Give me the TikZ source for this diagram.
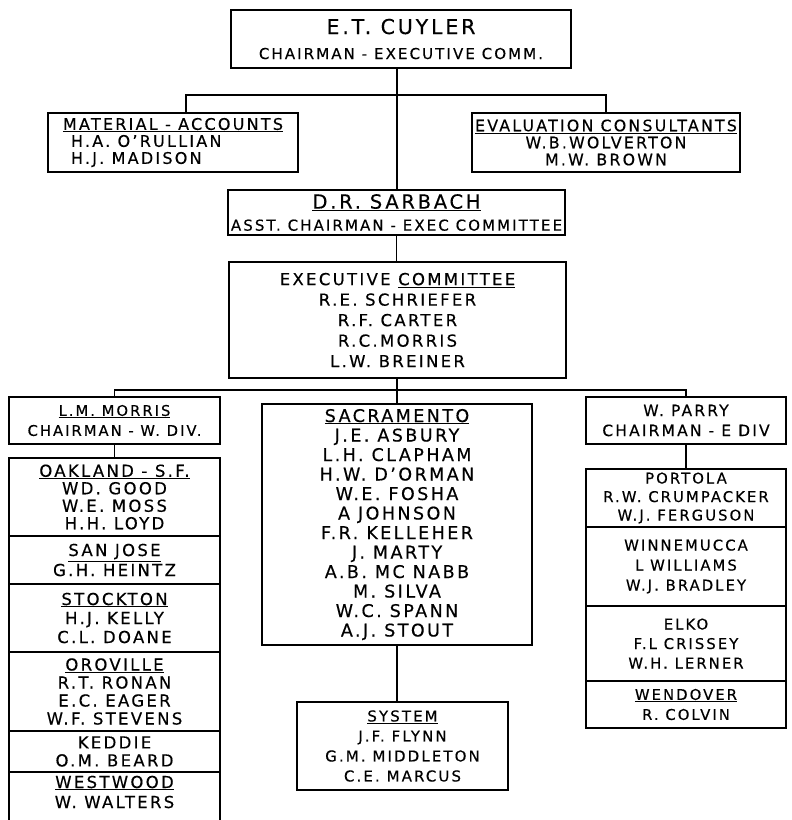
\documentclass[tikz,border=0pt]{standalone}
\usepackage{fontspec}
\setmainfont{DejaVu Sans}[LetterSpace=14,FakeBold=0.4]
\usetikzlibrary{positioning}

\tikzset{
  unit/.style={draw,line width=1.2pt,anchor=north west,inner sep=0pt,outer sep=0pt,align=center,
    font=\fontsize{16.5}{18}\selectfont},
  link/.style={line width=1.2pt}
}
\newcommand{\hd}[1]{\underline{#1}}
\newcommand{\fs}[2]{\fontsize{#1}{#2}\selectfont}

\begin{document}
\begin{tikzpicture}[x=1pt,y=-1pt]
  \useasboundingbox (0,0) rectangle (792,820);

  % top of the chart
  \node[unit,minimum width=340,minimum height=58,font=\fs{15}{25}] (cuyler) at (231,10)
    {{\fs{20.5}{25}E.T. CUYLER}\\CHAIRMAN - EXECUTIVE COMM.};
  \node[unit,minimum width=250,minimum height=59,align=left,font=\fs{16}{17}] (material) at (48,113)
    {\hd{MATERIAL - ACCOUNTS}\\\hspace*{8pt}H.A. O'RULLIAN\\\hspace*{8pt}H.J. MADISON};
  \node[unit,minimum width=268,minimum height=59,font=\fs{15.8}{17}] (evaluation) at (472,113)
    {\hd{EVALUATION CONSULTANTS}\\W.B.WOLVERTON\\M.W. BROWN};
  \node[unit,minimum width=337,minimum height=45,font=\fs{15}{22}] (sarbach) at (228,190)
    {{\fs{19.5}{22}\hd{D.R. SARBACH}}\\ASST. CHAIRMAN - EXEC COMMITTEE};
  \node[unit,minimum width=337,minimum height=116,font=\fs{16.5}{20.5}] (execcomm) at (229,262)
    {EXECUTIVE \hd{COMMITTEE}\\R.E. SCHRIEFER\\R.F. CARTER\\R.C.MORRIS\\L.W. BREINER};

  \coordinate (topbar) at (397,95);
  \draw[link] ([xshift=13pt]material.north) |- (topbar) -| (evaluation.north);
  \draw[link] (cuyler.south -| topbar) -- (sarbach.north -| topbar);
  \draw[link] (sarbach.south) -- (sarbach.south |- execcomm.north);

  % west division
  \node[unit,minimum width=211,minimum height=47,font=\fs{14.7}{20}] (lmorris) at (9,397)
    {\hd{L.M. MORRIS}\\CHAIRMAN - W. DIV.};
  \node[unit,minimum width=211,minimum height=78,font=\fs{16.5}{17.5}] (oakland) at (9,458)
    {\hd{OAKLAND - S.F.}\\WD. GOOD\\W.E. MOSS\\H.H. LOYD};
  \node[unit,minimum width=211,minimum height=48,font=\fs{16.5}{20}] (sanjose) at (9,536)
    {\hd{SAN JOSE}\\G.H. HEINTZ};
  \node[unit,minimum width=211,minimum height=68,font=\fs{16.5}{19}] (stockton) at (9,584)
    {\hd{STOCKTON}\\H.J. KELLY\\C.L. DOANE};
  \node[unit,minimum width=211,minimum height=79] (oroville) at (9,652)
    {\hd{OROVILLE}\\R.T. RONAN\\E.C. EAGER\\W.F. STEVENS};
  \node[unit,minimum width=211,minimum height=41] (keddie) at (9,731)
    {KEDDIE\\O.M. BEARD};
  % the last box runs off the sheet
  \node[unit,draw=none,minimum width=211,minimum height=40,font=\fs{16.5}{20}] (westwood) at (9,772)
    {\hd{WESTWOOD}\\W. WALTERS};
  \draw[link] (westwood.north west) -- ++(0,50);
  \draw[link] (westwood.north east) -- ++(0,50);

  % sacramento and system
  \node[unit,minimum width=270,minimum height=241,font=\fs{17.5}{19.5}] (sacramento) at (262,404)
    {\hd{SACRAMENTO}\\J.E. ASBURY\\L.H. CLAPHAM\\H.W. D'ORMAN\\W.E. FOSHA\\A JOHNSON\\F.R. KELLEHER\\J. MARTY\\A.B. MC NABB\\M. SILVA\\W.C. SPANN\\A.J. STOUT};
  \node[unit,minimum width=211,minimum height=88,font=\fs{15}{20}] (system) at (297,702)
    {\hd{SYSTEM}\\J.F. FLYNN\\G.M. MIDDLETON\\C.E. MARCUS};

  % east division
  \node[unit,minimum width=200,minimum height=47,font=\fs{15.5}{20}] (parry) at (586,397)
    {W. PARRY\\CHAIRMAN - E DIV};
  \node[unit,minimum width=200,minimum height=58,font=\fs{14.8}{18.5}] (portola) at (586,469)
    {PORTOLA\\R.W. CRUMPACKER\\W.J. FERGUSON};
  \node[unit,minimum width=200,minimum height=79,font=\fs{14.8}{20}] (winnemucca) at (586,527)
    {WINNEMUCCA\\L WILLIAMS\\W.J. BRADLEY};
  \node[unit,minimum width=200,minimum height=75,font=\fs{14.8}{19.5}] (elko) at (586,606)
    {ELKO\\F.L CRISSEY\\W.H. LERNER};
  \node[unit,minimum width=200,minimum height=47,font=\fs{14.8}{20}] (wendover) at (586,681)
    {\hd{WENDOVER}\\R. COLVIN};

  \coordinate (divbar) at (397,390);
  \draw[link] (lmorris.north) |- (divbar) -| (parry.north);
  \draw[link] (execcomm.south -| divbar) -- (sacramento.north -| divbar);
  \draw[link] (lmorris.south) -- (oakland.north);
  \draw[link] (parry.south) -- (portola.north);
  \draw[link] (sacramento.south) -- (sacramento.south |- system.north);
\end{tikzpicture}
\end{document}
